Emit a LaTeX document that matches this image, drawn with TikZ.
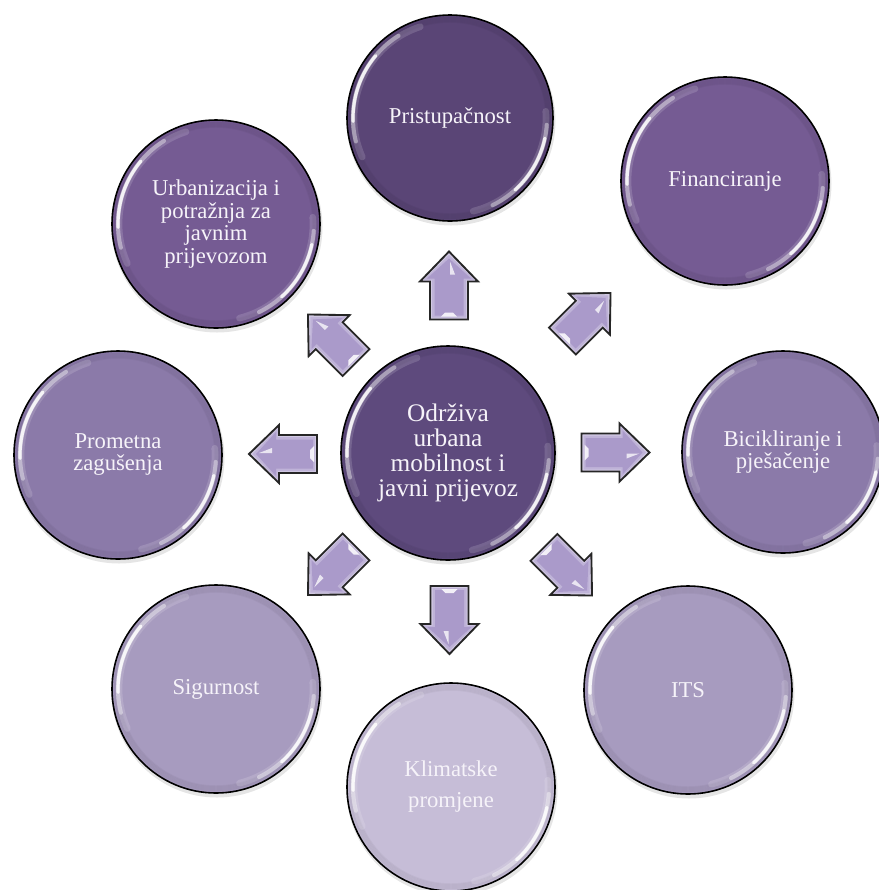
\documentclass[tikz,border=0pt]{standalone}
\usepackage{fontspec}
\setmainfont{Liberation Serif}
\usetikzlibrary{calc}
\definecolor{cA}{HTML}{5E4A7D}
\definecolor{cB}{HTML}{5A4576}
\definecolor{cC}{HTML}{755B93}
\definecolor{cD}{HTML}{8B7AA9}
\definecolor{cE}{HTML}{A79BBF}
\definecolor{cF}{HTML}{C6BDD7}
\definecolor{txt}{HTML}{F6F3F9}
\definecolor{arrEdge}{HTML}{D2CAE3}
\definecolor{arrMid}{HTML}{BFB3D8}
\definecolor{arrFace}{HTML}{AA9ACA}
\tikzset{
  bubble/.style={circle, draw=black, line width=1.2pt, inner sep=0pt, text=txt, align=center},
  blockarr/.pic={
    \path[draw=black!85, line width=1.4pt, fill=arrEdge, line join=miter]
      (-34,-19) -- (4,-19) -- (4,-29) -- (34,0) -- (4,29) -- (4,19) -- (-34,19) -- cycle;
    \fill[arrMid] (-32,-17) -- (5.5,-17) -- (5.5,-25.5) -- (30.5,0) -- (5.5,25.5) -- (5.5,17) -- (-32,17) -- cycle;
    \fill[arrFace] (-30,-14.5) -- (7,-14.5) -- (7,-22) -- (27,0) -- (7,22) -- (7,14.5) -- (-30,14.5) -- cycle;
    \fill[white, opacity=0.85] (-31,-8) -- (-31,8) -- (-27,4) -- (-27,-4) -- cycle;
    \fill[white, opacity=0.75] (11,1) -- (24,1) .. controls (18,3) .. (11,6) -- cycle;
  }
}
\newcommand\hlarc[7]{% name, r, a, b, width, opacity, inset
  \draw[white, line width=#5, opacity=#6, line cap=round]
    (#1.center) ++({-(#3)}:{#2-#7}) arc[start angle={-(#3)}, end angle={-(#4)}, radius={#2-#7}];}
\newcommand\glossbubble[8]{% name, x, y, r, colour, size, skip, text
  \fill[black, opacity=0.10] (#2+1,#3+3) circle[radius=#4+1.5];
  \node[bubble, fill=#5, minimum size={#4*1.5pt}, font=\fontsize{#6}{#7}\selectfont] (#1) at (#2,#3) {#8};
  \foreach \k in {2,...,7}{\draw[black, opacity=0.035, line width=1.1pt] (#1.center) circle[radius={#4-\k}];}
  \hlarc{#1}{#4}{108}{204}{5pt}{0.15}{7}
  \hlarc{#1}{#4}{122}{194}{3pt}{0.40}{6}
  \hlarc{#1}{#4}{140}{182}{2.4pt}{0.85}{6}
  \hlarc{#1}{#4}{-76}{4}{5pt}{0.15}{7}
  \hlarc{#1}{#4}{-64}{-4}{3pt}{0.40}{6}
  \hlarc{#1}{#4}{-48}{-12}{2.4pt}{0.85}{6}
}
\newcommand\radialarrow[2]{%
  \path let \p1 = ($(#2)-(#1)$), \n1 = {round(atan2(\y1,\x1)/45)*45} in
    ($(#1)!0.5!(#2)$) pic[rotate=\n1] {blockarr};}
\begin{document}
\begin{tikzpicture}[x=0.75pt, y=-0.75pt]
\useasboundingbox (0,0) rectangle (879,890);
\fill[white] (0,0) rectangle (879,890);
\glossbubble{ctr}{448}{453}{107}{cA}{19}{18.75}{Održiva\\urbana\\mobilnost i\\javni prijevoz}
\glossbubble{pris}{450}{118}{103}{cB}{17}{17}{Pristupačnost}
\glossbubble{fin}{725}{181}{104}{cC}{17}{17}{Financiranje}
\glossbubble{bic}{783}{452}{101}{cD}{17}{16.5}{Bicikliranje i\\pješačenje}
\glossbubble{its}{688}{690}{104}{cE}{17}{17}{ITS}
\glossbubble{klim}{451}{787}{104}{cF}{17}{23.3}{Klimatske\\promjene}
\glossbubble{sig}{216}{689}{104}{cE}{17}{17}{Sigurnost}
\glossbubble{prom}{118}{455}{104}{cD}{17}{16.5}{Prometna\\zagušenja}
\glossbubble{urb}{216}{224}{104}{cC}{17}{17}{Urbanizacija i\\potražnja za\\javnim\\prijevozom}
\radialarrow{ctr}{pris}
\radialarrow{ctr}{fin}
\radialarrow{ctr}{bic}
\radialarrow{ctr}{its}
\radialarrow{ctr}{klim}
\radialarrow{ctr}{sig}
\radialarrow{ctr}{prom}
\radialarrow{ctr}{urb}
\end{tikzpicture}
\end{document}
